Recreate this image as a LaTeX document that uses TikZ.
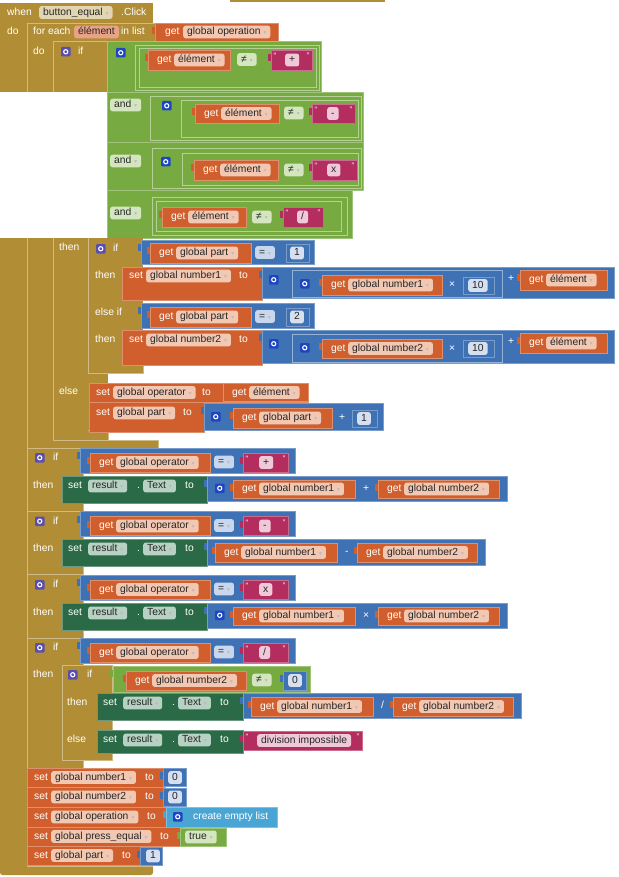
\documentclass[tikz,border=0pt]{standalone}
\usepackage{fontspec}
\setmainfont{Liberation Sans}
\newfontfamily\djv{DejaVu Sans}
\definecolor{cGold}{HTML}{B18E35}
\definecolor{cGoldL}{HTML}{E2D6B2}
\definecolor{cOr}{HTML}{D05F2D}
\definecolor{cOrL}{HTML}{F2C8B3}
\definecolor{cOrE}{HTML}{E8A387}
\definecolor{cBl}{HTML}{3F71B5}
\definecolor{cBlL}{HTML}{C8D7EC}
\definecolor{cNum}{HTML}{D6E0F0}
\definecolor{cGr}{HTML}{77AB41}
\definecolor{cGrL}{HTML}{D3E6BF}
\definecolor{cPk}{HTML}{B32D5E}
\definecolor{cPkL}{HTML}{F0C9D8}
\definecolor{cDg}{HTML}{2B6A46}
\definecolor{cDgL}{HTML}{B7D1C2}
\definecolor{cLb}{HTML}{49A6D4}
\definecolor{cGearP}{HTML}{5A4FB0}
\definecolor{cGearB}{HTML}{1E46C2}
\newcommand{\fs}{\fontsize{10.3}{12}\selectfont}
\newcommand{\dn}{\hspace{3pt}{\djv\fontsize{5.5}{6}\selectfont\textcolor{black!28}{▾}}}
\tikzset{
 lbl/.style={font=\fs, text=white, inner sep=0pt, anchor=west, text height=7.6pt, text depth=2.2pt},
 qt/.style={font=\fontsize{8}{8}\selectfont, text=white, inner sep=0pt, anchor=center},
 pill/.style={fill=#1, rounded corners=2.5pt, inner xsep=4pt, inner ysep=0pt, minimum height=12.8pt, text=black!85, font=\fs, anchor=west, text height=7.6pt, text depth=2.2pt},
 gl/.style={draw=cGold!60!white, line width=0.6pt},
 goldb/.style={fill=cGold, draw=cGold!60!white, line width=0.6pt},
 bll/.style={draw=cBl!55!white, line width=0.6pt},
 grl/.style={draw=cGr!55!white, line width=0.6pt},
}
\newcommand{\Bx}[5]{\draw[fill=#1, draw=#1!70!white, line width=0.5pt] (#2,#3) rectangle (#4,#5);}
\newcommand{\Vb}[5]{\fill[#1] (#2-3.5,#3+4) rectangle (#2+1,#3+11);\Bx{#1}{#2}{#3}{#4}{#5}}
\newcommand{\Gear}[3]{\fill[#3, rounded corners=1pt] (#1,#2) rectangle ++(9.5,9.5);\draw[white, line width=1.1pt] (#1+4.75,#2+4.75) circle (2.1pt);}
\newcommand{\Lab}[3]{\node[lbl] at (#1,#2) {#3};}
\newcommand{\Pil}[4]{\node[pill=#3] at (#1,#2) {#4};}
\newcommand{\Txt}[6]{\Vb{cPk}{#1}{#2}{#3}{#4}\node[qt] at (#1+4,#2+6) {“};\node[qt] at (#3-4,#2+6) {”};\Pil{#5}{{(#2+#4)/2}}{cPkL}{#6}}
\newcommand{\Get}[5]{\Vb{cOr}{#1}{#2}{#3}{#4}\Lab{#1+9}{{(#2+#4)/2}}{get}\Pil{#1+26}{{(#2+#4)/2}}{cOrL}{#5\dn}}
\newcommand{\SetO}[7]{\Bx{cOr}{#1}{#2}{#3}{#4}\Lab{#1+7}{#5}{set}\Pil{#1+24}{#5}{cOrL}{#6\dn}\Lab{#7}{#5}{to}}
\newcommand{\SetG}[5]{\Bx{cDg}{#1}{#2}{#3}{#4}\Lab{#1+6}{#5}{set}\Pil{#1+26}{#5}{cDgL}{result\dn}\Lab{#1+75}{#5}{.}\Pil{#1+81}{#5}{cDgL}{Text\dn}\Lab{#1+123}{#5}{to}}
\newcommand{\IfHead}[2]{\Gear{35}{453+#1}{cGearP}\Lab{53}{458+#1}{if}\Vb{cBl}{80}{448+#1}{295}{473+#1}\Get{90}{453+#1}{210}{472+#1}{global operator}\Pil{214}{462+#1}{cBlL}{=\dn}\Txt{243}{453+#1}{288}{472+#1}{259}{#2}}
\newcommand{\MathG}[2]{\Vb{cBl}{207}{476+#1}{507}{501+#1}\Gear{215}{483.5+#1}{cGearB}\Get{233}{480+#1}{355}{498+#1}{global number1}\Lab{363}{489+#1}{#2}\Get{378}{480+#1}{499}{498+#1}{global number2}}
\begin{document}
\begin{tikzpicture}[x=1pt,y=-1pt]
\useasboundingbox (0,0) rectangle (618,877);
\fill[white] (0,0) rectangle (618,877);
% ---------- top gold ----------
\fill[cGold] (230,0) rectangle (385,2.5);
\fill[cGold] (0,3) rectangle (153,92);
\fill[cGold] (153,23) rectangle (155,41);
\draw[gl] (27,92) -- (27,23) -- (155,23) -- (155,41);
\draw[gl] (53,92) -- (53,41) -- (108,41);
\Lab{7}{13}{when}
\Pil{39}{12.5}{cGoldL}{button\_equal\dn}
\Lab{121}{13}{.Click}
\Lab{7}{32}{do}
\Lab{33}{32}{for each}
\Pil{74}{32}{cOrE}{élément}
\Lab{121}{32}{in list}
\Vb{cOr}{155}{23}{278}{41}
\Lab{165}{32}{get}
\Pil{183}{32}{cOrL}{global operation\dn}
\Lab{33}{52}{do}
\Gear{61}{47}{cGearP}
\Lab{78}{52}{if}
% ---------- green condition ----------
\Bx{cGr}{107}{41}{321}{92}
\Bx{cGr}{107}{92}{363}{142}
\Bx{cGr}{107}{142}{363}{190}
\Bx{cGr}{107}{190}{352}{238}
% row 1
\draw[grl] (135,45) rectangle (319,90);
\draw[grl] (139,48) rectangle (316,87);
\Gear{116}{48}{cGearB}
\Get{148}{50}{230}{70}{élément}
\Pil{237}{59.5}{cGrL}{≠\dn}
\Txt{271}{50}{312}{70}{285}{+}
% row 2
\draw[grl] (150,96) rectangle (361,140);
\draw[grl] (181,100) rectangle (358,137);
\Pil{110}{105}{cGrL}{and\dn}
\Gear{162}{101}{cGearB}
\Get{195}{104}{279}{123}{élément}
\Pil{284}{113}{cGrL}{≠\dn}
\Txt{312}{104}{355}{123}{327}{-}
% row 3
\draw[grl] (152,148) rectangle (361,188);
\draw[grl] (182,153) rectangle (358,185);
\Pil{110}{161}{cGrL}{and\dn}
\Gear{161}{157}{cGearB}
\Get{194}{160}{278}{180}{élément}
\Pil{284}{170}{cGrL}{≠\dn}
\Txt{312}{160}{357}{180}{327}{x}
% row 4
\draw[grl] (152,197) rectangle (347,235);
\draw[grl] (156,201) rectangle (341,231);
\Pil{110}{213}{cGrL}{and\dn}
\Get{162}{207}{246}{227}{élément}
\Pil{252}{217}{cGrL}{≠\dn}
\Txt{283}{207}{323}{227}{297}{/}
% ---------- lower gold ----------
\fill[cGold] (0,238) rectangle (27,868);
\fill[cGold, rounded corners=2.5pt] (0,865) rectangle (153,875);
\draw[gl] (27,238) -- (27,866) -- (153,866);
\fill[cGold] (27,238) rectangle (53,448);
\fill[cGold] (53,440) rectangle (158,448);
\draw[gl] (27,238) -- (27,448) -- (158,448) -- (158,440) -- (108,440);
\fill[cGold] (53,238) rectangle (108,440);
\draw[gl] (53,238) -- (53,440) -- (108,440) -- (108,430) -- (88,430);
\fill[cGold] (88,238) rectangle (143,373);
\draw[gl] (88,238) -- (88,373) -- (143,373) -- (143,365);
% ---------- then branch ----------
\Lab{59}{248}{then}
\Gear{96}{244}{cGearP}
\Lab{113}{249}{if}
\Vb{cBl}{141}{240}{314}{264}
\Get{150}{243}{251}{263}{global part}
\Pil{255}{252.5}{cBlL}{=\dn}
\Vb{cBl}{286}{244}{309}{262}
\Pil{290}{253}{cNum}{1}
\Lab{95}{276}{then}
\SetO{122}{267}{262}{300}{276}{global number1}{239}
\Vb{cBl}{262}{267}{614}{298}
\Gear{269}{275}{cGearB}
\draw[bll] (292,270) rectangle (502,297);
\Gear{300}{279}{cGearB}
\Get{322}{275}{442}{295}{global number1}
\Lab{449}{285}{×}
\Vb{cBl}{463}{277}{494}{294}
\Pil{468}{285.5}{cNum}{10}
\Lab{508}{279}{+}
\Get{520}{270}{607}{290}{élément}
\Lab{95}{313}{else if}
\Vb{cBl}{141}{303}{314}{328}
\Get{150}{307}{251}{327}{global part}
\Pil{255}{316.5}{cBlL}{=\dn}
\Vb{cBl}{286}{308}{309}{326}
\Pil{290}{317}{cNum}{2}
\Lab{95}{340}{then}
\SetO{122}{330}{262}{365}{340}{global number2}{239}
\Vb{cBl}{262}{330}{614}{363}
\Gear{269}{339}{cGearB}
\draw[bll] (292,334) rectangle (502,362);
\Gear{300}{343}{cGearB}
\Get{322}{339}{442}{358}{global number2}
\Lab{449}{349}{×}
\Vb{cBl}{463}{340}{494}{357}
\Pil{468}{348.5}{cNum}{10}
\Lab{508}{342}{+}
\Get{520}{333}{607}{353}{élément}
% else
\Lab{59}{392}{else}
\SetO{89}{383}{308}{402}{392.5}{global operator}{202}
\Get{223}{383.5}{308}{401.5}{élément}
\SetO{89}{402}{204}{432}{413}{global part}{183}
\Vb{cBl}{204}{403}{383}{430}
\Gear{211}{412}{cGearB}
\Get{233}{408}{332}{428}{global part}
\Lab{339}{418}{+}
\Vb{cBl}{352}{410}{377}{427}
\Pil{357}{418.5}{cNum}{1}
% ---------- if blocks ----------
\draw[goldb] (27,448) rectangle (83,511);
\draw[goldb] (27,511) rectangle (83,574.5);
\draw[goldb] (27,574.5) rectangle (83,638);
\draw[goldb] (27,638) rectangle (83,768);
% if 1
\IfHead{0}{+}
\Lab{33}{486}{then}
\SetG{62}{476}{207}{503}{486}
\MathG{0}{+}
% if 2
\IfHead{63.5}{-}
\Lab{33}{549}{then}
\SetG{62}{539}{207}{566}{549}
\Vb{cBl}{207}{539}{485}{565}
\Get{215}{543}{337}{562}{global number1}
\Lab{345}{552}{-}
\Get{357}{543}{477}{562}{global number2}
% if 3
\IfHead{127}{x}
\Lab{33}{613}{then}
\SetG{62}{603}{207}{630}{613}
\MathG{127}{×}
% if 4
\IfHead{190}{/}
\Lab{33}{675}{then}
\draw[goldb] (62,665) rectangle (112,760);
\Gear{68}{670}{cGearP}
\Lab{87}{675}{if}
\Vb{cGr}{113}{666}{310}{692}
\Get{126}{671}{246}{690}{global number2}
\Pil{252}{680}{cGrL}{≠\dn}
\Vb{cBl}{283}{671}{306}{690}
\Pil{288}{680.5}{cNum}{0}
\Lab{67}{703}{then}
\SetG{97}{693}{243}{720}{703}
\Vb{cBl}{243}{693}{521}{718}
\Get{251}{697}{373}{716}{global number1}
\Lab{381}{706}{/}
\Get{393}{697}{513}{716}{global number2}
\Lab{67}{740}{else}
\SetG{97}{730}{243}{753}{740}
\Txt{243}{731}{362}{750}{257}{division impossible}
% ---------- final sets ----------
\SetO{27}{768}{165}{787}{777.5}{global number1}{145}
\Vb{cBl}{163}{768}{186}{786}
\Pil{168}{777.5}{cNum}{0}
\SetO{27}{787}{165}{807}{797}{global number2}{145}
\Vb{cBl}{163}{788}{186}{806}
\Pil{168}{797}{cNum}{0}
\SetO{27}{807}{168}{827}{817}{global operation}{147}
\Vb{cLb}{166}{807}{277}{827}
\Gear{173}{812}{cGearB}
\Lab{193}{817}{create empty list}
\SetO{27}{827}{182}{846}{836.5}{global press\_equal}{160}
\Vb{cGr}{180}{828}{226}{846}
\Pil{185}{837}{cGrL}{true\dn}
\SetO{27}{846}{140}{865}{855.5}{global part}{122}
\Vb{cBl}{140}{847}{162}{865}
\Pil{146}{856}{cNum}{1}
\end{tikzpicture}
\end{document}
